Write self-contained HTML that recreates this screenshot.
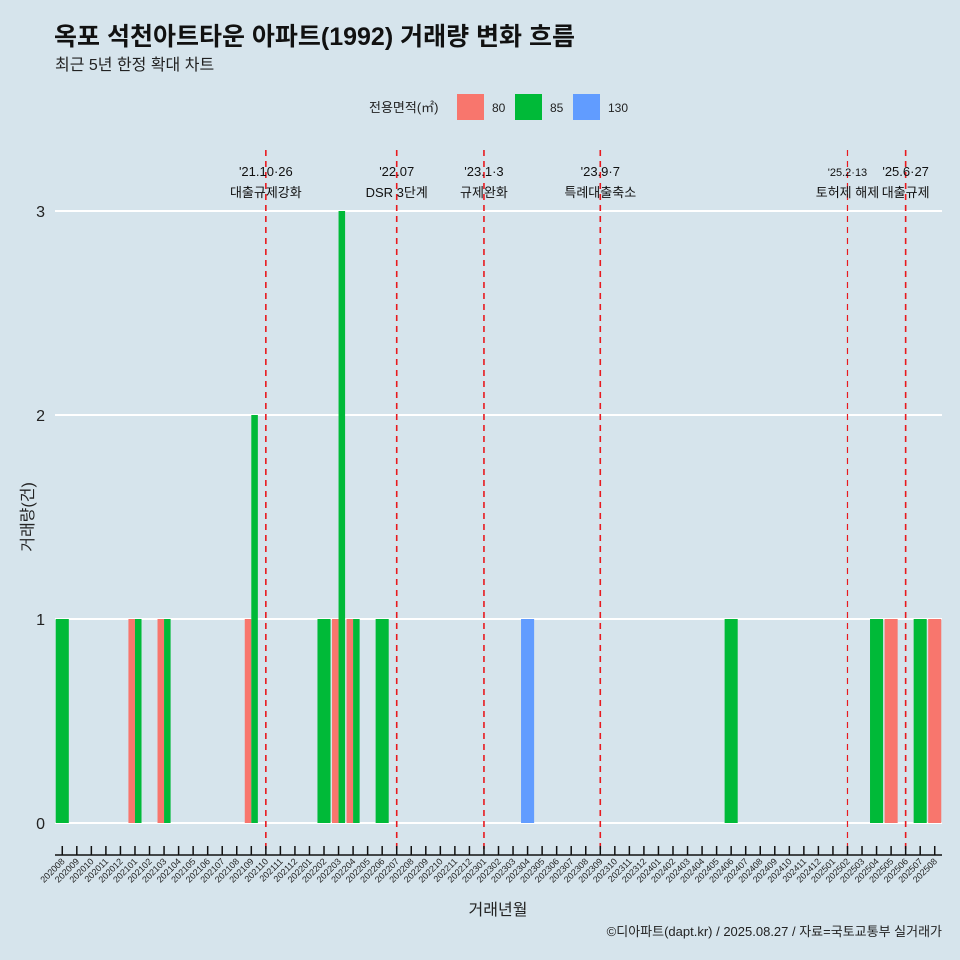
<!DOCTYPE html>
<html><head><meta charset="utf-8">
<style>
body{margin:0;background:#d6e4ec;}
svg{display:block;font-family:"Liberation Sans","Noto Sans CJK KR",sans-serif;}
</style></head>
<body>
<svg id="chart" width="960" height="960" viewBox="0 0 960 960" xmlns="http://www.w3.org/2000/svg">
<rect x="0" y="0" width="960" height="960" fill="#d6e4ec"/>
<text x="54" y="45" font-size="25" font-weight="bold" fill="#111">옥포 석천아트타운 아파트(1992) 거래량 변화 흐름</text>
<text x="55" y="70" font-size="16" fill="#222">최근 5년 한정 확대 차트</text>
<g>
<text x="369" y="112" font-size="13" fill="#222">전용면적(㎡)</text>
<rect x="457" y="94" width="27" height="26" fill="#f8766d"/>
<text x="492" y="112" font-size="12" fill="#222">80</text>
<rect x="515" y="94" width="27" height="26" fill="#00ba38"/>
<text x="550" y="112" font-size="12" fill="#222">85</text>
<rect x="573" y="94" width="27" height="26" fill="#619cff"/>
<text x="608" y="112" font-size="12" fill="#222">130</text>
</g>
<g id="grid"></g>
<g id="bars"></g>
<g id="events"></g>
<g id="axes"></g>
<text x="0" y="0" transform="translate(33,517) rotate(-90)" text-anchor="middle" font-size="16" fill="#222">거래량(건)</text>
<text x="498" y="915" text-anchor="middle" font-size="16" fill="#222">거래년월</text>
<text x="942" y="936" text-anchor="end" font-size="13" fill="#222">©디아파트(dapt.kr) / 2025.08.27 / 자료=국토교통부 실거래가</text>
</svg>
<script>
const months = [];
for (let y = 2020; y <= 2025; y++) for (let m = 1; m <= 12; m++) {
  const k = y * 100 + m;
  if (k >= 202008 && k <= 202508) months.push(String(k));
}
const barMonths = ["202008","202101","202101","202103","202103","202109","202109","202202","202203","202203","202204","202204","202206","202304","202406","202504","202505","202507","202508"];
const barSizes  = ["85","80","85","80","85","80","85","85","80","85","80","85","85","130","85","85","80","85","80"];
const barCounts = [1,1,1,1,1,1,2,1,1,3,1,1,1,1,1,1,1,1,1];
const yTicks = [0,1,2,3];
const eventMonths = ["202110","202207","202301","202309","202502","202506"];
const eventDates = ["'21.10·26","'22.07","'23.1·3","'23.9·7","'25.2·13","'25.6·27"];
const eventLabels = ["대출규제강화","DSR 3단계","규제완화","특례대출축소","토허제 해제","대출규제"];

const colors = {"80":"#f8766d","85":"#00ba38","130":"#619cff"};
const sizeOrder = ["80","85","130"];
const X0 = 55, X1 = 942, step = (X1 - X0) / months.length;
const xC = m => X0 + step * (months.indexOf(m) + 0.5);
const yS = v => 823 - v * 204;
const NS = "http://www.w3.org/2000/svg";
function mk(tag, attrs, parent) {
  const e = document.createElementNS(NS, tag);
  for (const k in attrs) e.setAttribute(k, attrs[k]);
  document.getElementById(parent).appendChild(e);
  return e;
}
yTicks.forEach(t => {
  const l = mk("line", {x1: X0, x2: X1, y1: yS(t), y2: yS(t), stroke: "#fff", "stroke-width": 2}, "grid");
  
  
  const tx = mk("text", {x: 45, y: yS(t) + 6, "text-anchor": "end", "font-size": 16, fill: "#222"}, "axes");
  tx.textContent = t;
  
  
});
const bw = step * 0.9;
barMonths.forEach((m, i) => {
  const group = [];
  barMonths.forEach((mm, j) => { if (mm === m) group.push(j); });
  group.sort((a, b) => sizeOrder.indexOf(barSizes[a]) - sizeOrder.indexOf(barSizes[b]));
  const n = group.length, w = bw / n, pos = group.indexOf(i);
  const x = xC(m) - bw / 2 + pos * w;
  const r = mk("rect", {x: x, y: yS(barCounts[i]), width: w, height: yS(0) - yS(barCounts[i]), fill: colors[barSizes[i]]}, "bars");
  
  
});
eventMonths.forEach((m, i) => {
  const x = xC(m);
  const small = i === 4;
  const l = mk("line", {x1: x, x2: x, y1: 150, y2: 852, stroke: "#e8191e", "stroke-width": small ? 1.2 : 1.6, "stroke-dasharray": "6,5"}, "events");
  
  
  const t1 = mk("text", {x: x, y: 176, "text-anchor": "middle", "font-size": small ? 11 : 13, fill: "#111"}, "events");
  t1.textContent = eventDates[i];
  
  
  const t2 = mk("text", {x: x, y: 197, "text-anchor": "middle", "font-size": 13, fill: "#111"}, "events");
  t2.textContent = eventLabels[i];
  
  
});
const ax = mk("line", {x1: X0, x2: X1, y1: 855, y2: 855, stroke: "#111", "stroke-width": 1.5}, "axes");


months.forEach(m => {
  const x = xC(m);
  const tk = mk("line", {x1: x, x2: x, y1: 846, y2: 855, stroke: "#111", "stroke-width": 1.5}, "axes");
  
  
  const t = mk("text", {x: x + 3, y: 862, "text-anchor": "end", "font-size": 9, fill: "#222", transform: "rotate(-45 " + (x + 3) + " 862)"}, "axes");
  t.textContent = m;
  
  
});
</script>
</body></html>
